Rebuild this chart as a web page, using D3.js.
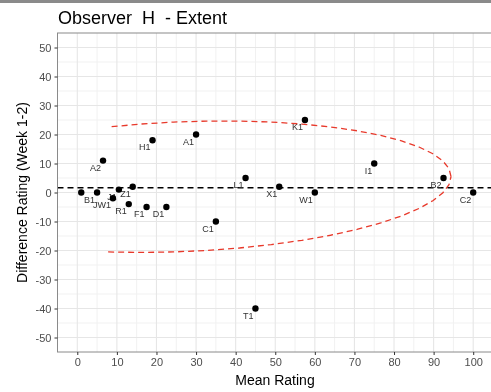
<!DOCTYPE html>
<html>
<head>
<meta charset="utf-8">
<script src="https://cdn.jsdelivr.net/npm/d3@7"></script>
<style>
  html, body { margin: 0; padding: 0; background: #fff; }
  svg { display: block; font-family: "Liberation Sans", Arial, sans-serif; will-change: transform; }
  .keep-spaces { white-space: pre; }
</style>
</head>
<body>
<svg id="chart" width="491" height="392"></svg>
<script>
// Observer H, extent ratings: mean of the two weeks vs. week 1 minus week 2
const labels     = ["",  "B1", "A2", "JW1", "J1", "R1", "Z1", "F1", "H1", "D1", "A1", "C1", "L1", "T1", "X1", "K1", "W1", "I1", "B2", "C2"];
const meanRating = [1,   5,    6.5,  9,     10.5, 13,   14,   17.5, 19,   22.5, 30,   35,   42.5, 45,   51,   57.5, 60,   75,   92.5, 100];
const diffRating = [0,   0,    11,   -2,    1,    -4,   2,    -5,   18,   -5,   20,   -10,  5,    -40,  2,    25,   0,    10,   5,    0];
const xTicks = [0, 10, 20, 30, 40, 50, 60, 70, 80, 90, 100];
const yTicks = [-50, -40, -30, -20, -10, 0, 10, 20, 30, 40, 50];
const xLimits = [0, 100];
const yLimits = [-50, 50];

// 95% ellipse: centre and scaled Cholesky factor [[r11, r12], [0, r22]] in data units
const ellipseCenter = [26.4, 2.0];
const ellipseChol = [[68, 3.5], [0, 22.4]];
const ellipseSegments = 51;

const svg = d3.select("#chart");
const panel = { left: 57.5, top: 33, right: 493, bottom: 352 };

// 5% expansion on both axes
const xPad = (xLimits[1] - xLimits[0]) * 0.05;
const yPad = (yLimits[1] - yLimits[0]) * 0.05;
const x = d3.scaleLinear().domain([xLimits[0] - xPad, xLimits[1] + xPad]).range([panel.left, panel.right]);
const y = d3.scaleLinear().domain([yLimits[0] - yPad, yLimits[1] + yPad]).range([panel.bottom, panel.top]);

const points = meanRating.map((m, i) => ({ label: labels[i], x: m, y: diffRating[i] }));

// strip across the top edge
svg.append("rect").attr("x", 0).attr("y", 0).attr("width", 491).attr("height", 3).attr("fill", "#8a8a8a");

// panel background and grid
const g = svg.append("g");
g.append("rect")
  .attr("x", panel.left).attr("y", panel.top)
  .attr("width", panel.right - panel.left).attr("height", panel.bottom - panel.top)
  .attr("fill", "#fff");

const xMinor = d3.range(xLimits[0] - 5, xLimits[1] + 6, 10).filter(v => v > x.domain()[0] && v < x.domain()[1]);
const yMinor = d3.range(yLimits[0] - 5, yLimits[1] + 6, 10).filter(v => v > y.domain()[0] && v < y.domain()[1]);

g.selectAll(".xminor").data(xMinor).join("line")
  .attr("x1", d => x(d)).attr("x2", d => x(d)).attr("y1", panel.top).attr("y2", panel.bottom)
  .attr("stroke", "#f1f1f1").attr("stroke-width", 1);
g.selectAll(".yminor").data(yMinor).join("line")
  .attr("y1", d => y(d)).attr("y2", d => y(d)).attr("x1", panel.left).attr("x2", panel.right)
  .attr("stroke", "#f1f1f1").attr("stroke-width", 1);
g.selectAll(".xmajor").data(xTicks).join("line")
  .attr("x1", d => x(d)).attr("x2", d => x(d)).attr("y1", panel.top).attr("y2", panel.bottom)
  .attr("stroke", "#e6e6e6").attr("stroke-width", 1.1);
g.selectAll(".ymajor").data(yTicks).join("line")
  .attr("y1", d => y(d)).attr("y2", d => y(d)).attr("x1", panel.left).attr("x2", panel.right)
  .attr("stroke", "#e6e6e6").attr("stroke-width", 1.1);

// ellipse outline starting at its right-hand tip; vertices outside the axis limits break the path
const ell = d3.range(ellipseSegments + 1).map(k => {
  const a = k * 2 * Math.PI / ellipseSegments;
  return {
    x: ellipseCenter[0] + Math.cos(a) * ellipseChol[0][0],
    y: ellipseCenter[1] + Math.cos(a) * ellipseChol[0][1] + Math.sin(a) * ellipseChol[1][1]
  };
});
const inLimits = d => d.x >= xLimits[0] && d.x <= xLimits[1] && d.y >= yLimits[0] && d.y <= yLimits[1];
g.append("path")
  .datum(ell)
  .attr("d", d3.line().defined(inLimits).x(d => x(d.x)).y(d => y(d.y)))
  .attr("fill", "none").attr("stroke", "#e8392b").attr("stroke-width", 1.3)
  .attr("stroke-dasharray", "6,4");

// mean difference
const meanDiff = d3.mean(diffRating);
g.append("line")
  .attr("x1", panel.left).attr("x2", panel.right)
  .attr("y1", y(meanDiff)).attr("y2", y(meanDiff))
  .attr("stroke", "#000").attr("stroke-width", 1.4).attr("stroke-dasharray", "6,4");

// point labels
g.append("g")
  .selectAll("text").data(points).join("text")
  .attr("x", d => x(d.x) - 2).attr("y", d => y(d.y) + 10)
  .attr("text-anchor", "end").attr("font-size", 9).attr("fill", "#333")
  .text(d => d.label);

// points
g.selectAll(".pt").data(points).join("circle")
  .attr("cx", d => x(d.x)).attr("cy", d => y(d.y)).attr("r", 3.2)
  .attr("fill", "#000");

// panel border
svg.append("rect")
  .attr("x", panel.left).attr("y", panel.top)
  .attr("width", panel.right - panel.left).attr("height", panel.bottom - panel.top)
  .attr("fill", "none").attr("stroke", "#8a8a8a").attr("stroke-width", 1);

// axes (plain hyphen for negative tick labels)
const plain = d => String(d);
const xAxis = svg.append("g").attr("transform", `translate(0,${panel.bottom})`)
  .call(d3.axisBottom(x).tickValues(xTicks).tickFormat(plain).tickSize(3).tickPadding(3));
const yAxis = svg.append("g").attr("transform", `translate(${panel.left},0)`)
  .call(d3.axisLeft(y).tickValues(yTicks).tickFormat(plain).tickSize(3).tickPadding(3));
[xAxis, yAxis].forEach(a => {
  a.select(".domain").remove();
  a.selectAll(".tick line").attr("stroke", "#333").attr("stroke-width", 1);
  a.selectAll(".tick text").attr("fill", "#4d4d4d").attr("font-size", 11)
    .attr("font-family", "Liberation Sans, Arial, sans-serif");
});

// titles
svg.append("text").attr("class", "keep-spaces").attr("x", 58).attr("y", 24)
  .attr("font-size", 18).attr("fill", "#000")
  .text("Observer  H  - Extent");
svg.append("text").attr("x", 275).attr("y", 385).attr("text-anchor", "middle")
  .attr("font-size", 14).attr("fill", "#000").text("Mean Rating");
svg.append("text")
  .attr("transform", `translate(27,${(panel.top + panel.bottom) / 2}) rotate(-90)`)
  .attr("text-anchor", "middle").attr("font-size", 14).attr("fill", "#000")
  .text("Difference Rating (Week 1-2)");
</script>
</body>
</html>
